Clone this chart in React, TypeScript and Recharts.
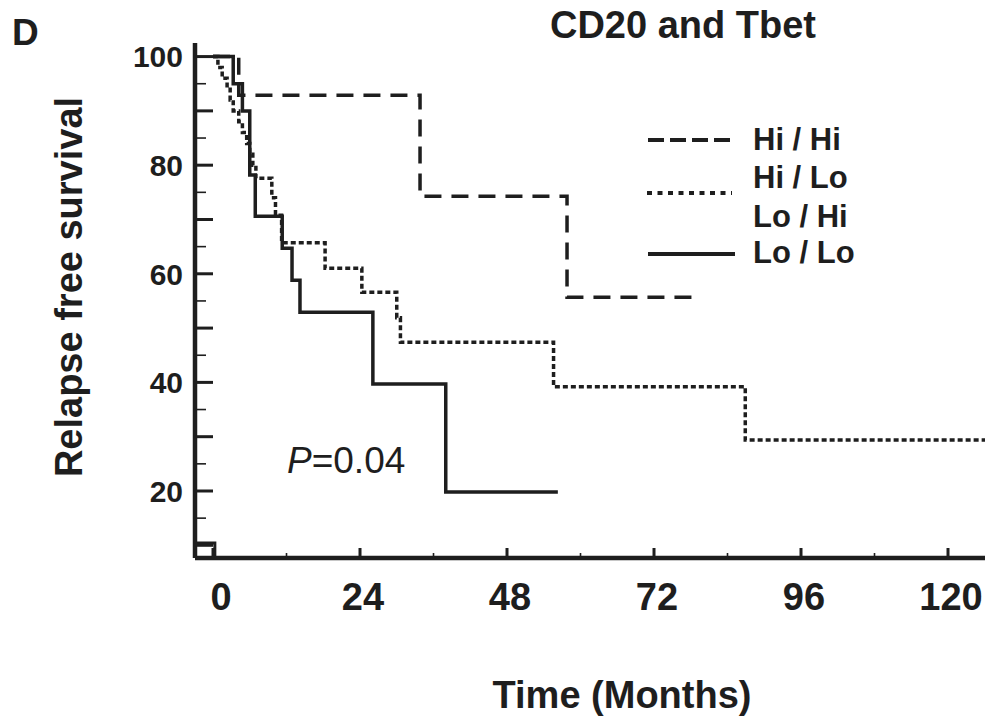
import React from 'react';
import { LineChart, Line, XAxis, YAxis, Legend, Customized } from 'recharts';

// ---- data ----
const hiHiTime = [0, 4.2, 33.8, 57.8, 79.0];
const hiHiSurv = [100, 92.9, 74.3, 55.7, 55.7];

const mixedTime = [0, 0.8, 1.5, 2.3, 2.8, 3.3, 4.2, 4.8, 5.5, 6.0, 6.5, 7.0, 9.6, 10.2, 11.2, 18.3, 24.3, 30.0, 30.6, 55.6, 86.9, 126.04];
const mixedSurv = [100, 98, 96, 94, 92, 90, 88, 86, 84, 82, 80, 77.6, 74, 70.8, 65.7, 61.0, 56.6, 51.9, 47.4, 39.2, 29.4, 29.4];

const loLoTime = [0, 3.3, 4.8, 6.0, 6.9, 11.3, 12.9, 14.2, 26.1, 38.0, 56.3];
const loLoSurv = [100, 95, 90, 78.2, 70.6, 64.7, 58.8, 52.9, 39.7, 19.8, 19.8];

const originTime = [-2.94, 0.3, 0.3];
const originSurv = [10.4, 10.4, 7.66];

const xTicks = [0, 12, 24, 36, 48, 60, 72, 84, 96, 108, 120];
const xLabels = [0, 24, 48, 72, 96, 120];
const yTicks = [10, 15, 20, 25, 30, 35, 40, 45, 50, 55, 60, 65, 70, 75, 80, 85, 90, 95, 100];
const yLabels = [20, 40, 60, 80, 100];

const legendLabels = ['Hi / Hi', 'Hi / Lo', 'Lo / Hi', 'Lo / Lo'];

const titleText = 'CD20 and Tbet';
const panelLetter = 'D';
const xTitle = 'Time (Months)';
const yTitle = 'Relapse free survival';
const pValue = '=0.04';

const toPoints = (ts: number[], vs: number[]) => ts.map((t, i) => ({ t, v: vs[i] }));

const hiHi = toPoints(hiHiTime, hiHiSurv);
const mixed = toPoints(mixedTime, mixedSurv);
const loLo = toPoints(loLoTime, loLoSurv);
const origin = toPoints(originTime, originSurv);

const INK = '#1e1e1e';
const FONT = '"Liberation Sans", Arial, Helvetica, sans-serif';

const YTick = (props: any) => {
  const { x, y, payload } = props;
  const v = payload.value;
  const major = v % 10 === 0;
  return (
    <g>
      <line x1={x} x2={x + (major ? 18 : 11)} y1={y} y2={y} stroke={INK} strokeWidth={major ? 3 : 1.6} />
      {yLabels.includes(v) && (
        <text x={x - 12} y={y} dy="0.36em" textAnchor="end" fontFamily={FONT} fontWeight="bold" fontSize={30} fill={INK}>
          {v}
        </text>
      )}
    </g>
  );
};

const XTick = (props: any) => {
  const { x, y, payload } = props;
  const v = payload.value;
  const major = v % 24 === 0;
  return (
    <g>
      <line x1={x} x2={x} y1={y} y2={y - (major ? 10 : 5)} stroke={INK} strokeWidth={major ? 3 : 1.6} />
      {xLabels.includes(v) && (
        <text x={x + (v === 0 ? 8 : 3)} y={y + 52} textAnchor="middle" fontFamily={FONT} fontWeight="bold" fontSize={38} fill={INK}>
          {v}
        </text>
      )}
    </g>
  );
};

const Texts = () => (
  <g fontFamily={FONT} fill={INK}>
    <text x={12} y={45} fontSize={37} fontWeight="bold">{panelLetter}</text>
    <text x={683} y={38} fontSize={38} fontWeight="bold" textAnchor="middle">{titleText}</text>
    <text x={82} y={287} fontSize={38} fontWeight="bold" textAnchor="middle" transform="rotate(-90 82 287)">{yTitle}</text>
    <text x={622} y={708} fontSize={38} fontWeight="bold" textAnchor="middle">{xTitle}</text>
    <text x={287} y={473} fontSize={37}>
      <tspan fontStyle="italic">P</tspan>{pValue}
    </text>
  </g>
);

const LegendBox = () => (
  <svg width={270} height={170} style={{ display: 'block' }}>
    <g fontFamily={FONT} fontWeight="bold" fontSize={31} fill={INK}>
      <line x1={8} x2={92} y1={30} y2={30} stroke={INK} strokeWidth={4} strokeDasharray="16 6" />
      <text x={113} y={40}>{legendLabels[0]}</text>
      <text x={113} y={78}>{legendLabels[1]}</text>
      <line x1={7} x2={92} y1={83} y2={83} stroke={INK} strokeWidth={4} strokeDasharray="5 5.5" />
      <text x={113} y={117}>{legendLabels[2]}</text>
      <line x1={8} x2={95} y1={144} y2={144} stroke={INK} strokeWidth={4} />
      <text x={113} y={153}>{legendLabels[3]}</text>
    </g>
  </svg>
);

export default function App() {
  return (
    <div style={{ position: 'absolute', left: 0, top: 0, width: 985, height: 719, background: '#fff' }}>
      <LineChart width={985} height={719} margin={{ top: 43, right: 0, bottom: 0, left: 0 }}>
        <XAxis
          type="number"
          dataKey="t"
          domain={[-2.94, 126.04]}
          allowDataOverflow
          ticks={xTicks}
          interval={0}
          height={161}
          tickSize={0}
          tickMargin={0}
          tickLine={false}
          axisLine={{ stroke: INK, strokeWidth: 4.5 }}
          tick={<XTick />}
        />
        <YAxis
          type="number"
          dataKey="v"
          domain={[7.66, 102.5]}
          allowDataOverflow
          ticks={yTicks}
          interval={0}
          width={195}
          tickSize={0}
          tickMargin={0}
          tickLine={false}
          axisLine={{ stroke: INK, strokeWidth: 4.5 }}
          tick={<YTick />}
        />
        <Line data={hiHi} dataKey="v" name="Hi / Hi" type="stepAfter" stroke={INK} strokeWidth={3.5} strokeDasharray="17 10" dot={false} activeDot={false} isAnimationActive={false} />
        <Line data={mixed} dataKey="v" name="Hi / Lo, Lo / Hi" type="stepAfter" stroke={INK} strokeWidth={3.5} strokeDasharray="5 3" dot={false} activeDot={false} isAnimationActive={false} />
        <Line data={loLo} dataKey="v" name="Lo / Lo" type="stepAfter" stroke={INK} strokeWidth={3.5} dot={false} activeDot={false} isAnimationActive={false} />
        <Line data={origin} dataKey="v" name="origin" legendType="none" type="stepAfter" stroke={INK} strokeWidth={3} dot={false} activeDot={false} isAnimationActive={false} />
        <Legend
          layout="vertical"
          align="center"
          verticalAlign="middle"
          content={() => <LegendBox />}
          wrapperStyle={{ position: 'absolute', left: 640, top: 110, width: 270, height: 170 }}
        />
        <Customized component={Texts} />
      </LineChart>
    </div>
  );
}
